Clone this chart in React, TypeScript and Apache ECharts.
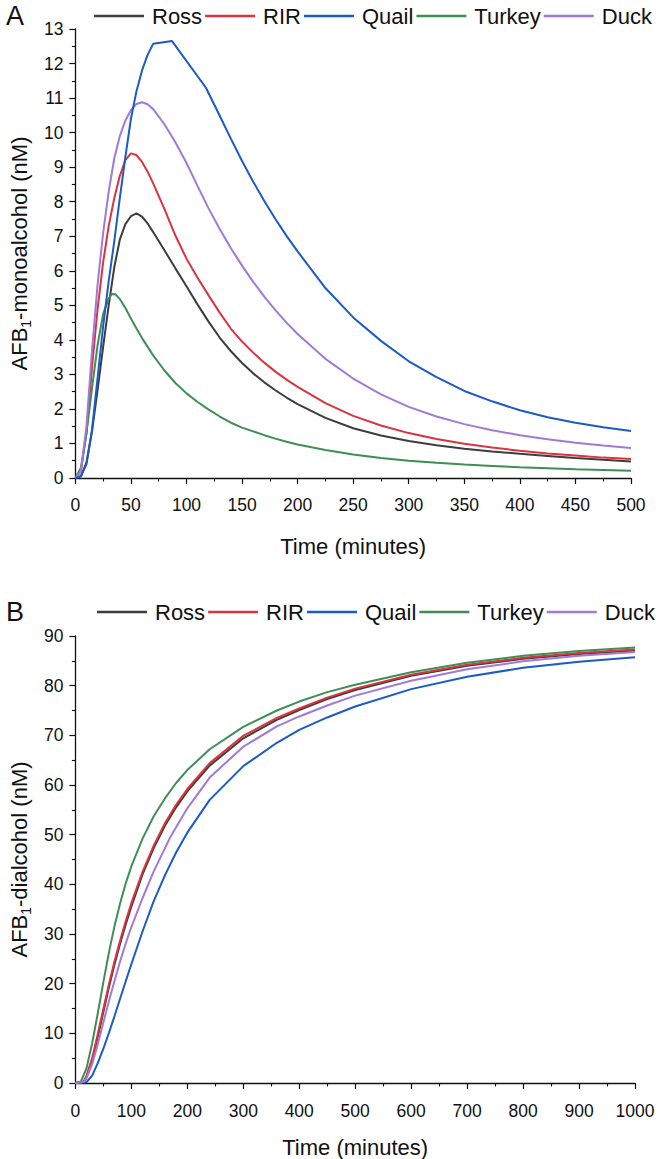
import React, { useEffect, useRef } from "react";
import * as echarts from "echarts";

const seriesNames = ["Ross", "RIR", "Quail", "Turkey", "Duck"];
const seriesColors = ["#3d3d3d", "#d9343f", "#1b5bc4", "#3f8f55", "#a07ad6"];

// Panel A: AFB1-monoalcohol (nM) vs time (minutes)
const rossMono = [[0,0],[5,0.05],[10,0.45],[15,1.35],[20,2.55],[25,3.8],[30,5.0],[35,6.1],[40,6.9],[45,7.35],[50,7.58],[55,7.66],[60,7.57],[65,7.37],[70,7.12],[80,6.6],[90,6.07],[100,5.55],[110,5.02],[120,4.52],[130,4.06],[140,3.67],[150,3.33],[160,3.03],[170,2.77],[180,2.54],[190,2.33],[200,2.14],[225,1.74],[250,1.44],[275,1.23],[300,1.07],[325,0.95],[350,0.85],[375,0.77],[400,0.7],[425,0.64],[450,0.58],[475,0.53],[500,0.48]];
const rirMono = [[0,0],[5,0.2],[10,1.3],[15,3.2],[20,4.9],[25,6.25],[30,7.3],[35,8.1],[40,8.75],[45,9.2],[50,9.4],[55,9.35],[60,9.15],[65,8.87],[70,8.53],[80,7.8],[90,7.02],[100,6.35],[110,5.8],[120,5.28],[130,4.78],[140,4.32],[150,3.95],[160,3.63],[170,3.34],[180,3.08],[190,2.85],[200,2.64],[225,2.17],[250,1.8],[275,1.52],[300,1.3],[325,1.13],[350,0.99],[375,0.88],[400,0.79],[425,0.71],[450,0.65],[475,0.59],[500,0.55]];
const quailMono = [[0,0],[5,0.05],[10,0.4],[15,1.4],[20,2.9],[25,4.4],[30,5.7],[35,6.85],[40,8.1],[45,9.3],[50,10.4],[55,11.2],[60,11.8],[65,12.25],[70,12.57],[87,12.65],[117.5,11.3],[130,10.48],[140,9.82],[150,9.18],[160,8.58],[170,8.02],[180,7.5],[190,7.01],[200,6.56],[225,5.5],[250,4.65],[275,3.97],[300,3.38],[325,2.92],[350,2.52],[375,2.22],[400,1.96],[425,1.76],[450,1.6],[475,1.47],[500,1.36]];
const turkeyMono = [[0,0],[5,0.3],[10,1.3],[15,2.6],[20,3.85],[25,4.75],[30,5.2],[33,5.33],[36,5.32],[40,5.18],[45,4.92],[50,4.62],[55,4.33],[60,4.05],[70,3.55],[80,3.12],[90,2.75],[100,2.45],[110,2.2],[120,1.98],[130,1.78],[140,1.6],[150,1.46],[160,1.35],[170,1.24],[180,1.14],[190,1.05],[200,0.97],[225,0.81],[250,0.68],[275,0.58],[300,0.5],[325,0.44],[350,0.39],[375,0.35],[400,0.31],[425,0.28],[450,0.25],[475,0.23],[500,0.21]];
const duckMono = [[0,0],[5,0.2],[10,1.5],[15,3.7],[20,5.6],[25,7.1],[30,8.3],[35,9.25],[40,9.9],[45,10.35],[50,10.65],[55,10.83],[60,10.88],[65,10.82],[70,10.68],[80,10.25],[90,9.72],[100,9.12],[110,8.45],[120,7.8],[130,7.2],[140,6.65],[150,6.15],[160,5.68],[170,5.25],[180,4.86],[190,4.5],[200,4.17],[225,3.45],[250,2.88],[275,2.42],[300,2.06],[325,1.78],[350,1.56],[375,1.38],[400,1.24],[425,1.12],[450,1.02],[475,0.94],[500,0.87]];

// Panel B: AFB1-dialcohol (nM) vs time (minutes)
const rossDi = [[0,0],[15,0.2],[20,1.2],[30,4.5],[40,9.2],[50,14.3],[60,19.3],[70,23.9],[80,28.1],[90,31.9],[100,35.5],[120,42.0],[140,47.3],[160,51.8],[180,55.5],[200,58.7],[240,63.9],[300,69.4],[360,73.1],[400,75.1],[450,77.3],[500,79.1],[600,82.0],[700,84.0],[800,85.4],[900,86.4],[1000,87.1]];
const rirDi = [[0,0],[15,0.3],[20,1.5],[30,5],[40,9.8],[50,14.9],[60,19.9],[70,24.5],[80,28.7],[90,32.6],[100,36.2],[120,42.5],[140,47.8],[160,52.3],[180,56.0],[200,59.2],[240,64.4],[300,69.9],[360,73.5],[400,75.4],[450,77.6],[500,79.4],[600,82.2],[700,84.2],[800,85.6],[900,86.6],[1000,87.3]];
const quailDi = [[0,0],[20,0.2],[30,1.5],[40,4],[50,6.9],[60,10.1],[70,13.5],[80,17.0],[90,20.5],[100,23.9],[120,30.5],[140,36.6],[160,41.8],[180,46.4],[200,50.4],[240,57.0],[300,63.8],[360,68.5],[400,71.1],[450,73.6],[500,75.8],[600,79.3],[700,81.8],[800,83.6],[900,84.8],[1000,85.7]];
const turkeyDi = [[0,0],[10,0.3],[20,3],[30,8],[40,14],[50,20.3],[60,26.3],[70,31.6],[80,36.2],[90,40.2],[100,43.6],[120,49.2],[140,53.7],[160,57.3],[180,60.4],[200,63.0],[240,67.2],[300,71.7],[360,75.0],[400,76.8],[450,78.7],[500,80.2],[600,82.7],[700,84.6],[800,86.0],[900,87.0],[1000,87.7]];
const duckDi = [[0,0],[15,0.2],[20,1],[30,3.8],[40,7.8],[50,12.2],[60,16.5],[70,20.6],[80,24.5],[90,28.1],[100,31.4],[120,37.2],[140,42.6],[170,49.6],[200,55.3],[240,61.5],[300,67.7],[360,71.8],[400,73.8],[450,76.0],[500,78.0],[600,81.0],[700,83.3],[800,84.9],[900,86.0],[1000,86.8]];

const monoData = [rossMono, rirMono, quailMono, turkeyMono, duckMono];
const diData = [rossDi, rirDi, quailDi, turkeyDi, duckDi];

const FONT = "'Liberation Sans', Arial, sans-serif";

function makeAxisName(main: string, rest: string, size: number) {
  return {
    text: `{n|${main}}{s|1}{n|${rest}}`,
    rich: {
      n: { fontSize: size, fontFamily: FONT, color: "#111", lineHeight: size + 6 },
      s: { fontSize: Math.round(size * 0.62), fontFamily: FONT, color: "#111", lineHeight: size + 6, verticalAlign: "bottom" },
    },
  };
}

export default function App() {
  const ref = useRef<HTMLDivElement>(null);
  useEffect(() => {
    if (!ref.current) return;
    const chart = echarts.init(ref.current, undefined, { renderer: "svg" });
    const axisCommon = {
      axisLine: { show: true, lineStyle: { color: "#111", width: 1.3 } },
      axisTick: { show: true, inside: false, length: 6, lineStyle: { color: "#111", width: 1.2 } },
      minorTick: { show: true, splitNumber: 2, length: 3.5, lineStyle: { color: "#111", width: 1.1 } },
      splitLine: { show: false },
      minorSplitLine: { show: false },
      axisLabel: { fontSize: 17.5, fontFamily: FONT, color: "#111" },
    };
    const yNameA = makeAxisName("AFB", "-monoalcohol (nM)", 22);
    const yNameB = makeAxisName("AFB", "-dialcohol (nM)", 22);
    const legendCommon = {
      data: seriesNames,
      icon: "rect",
      itemWidth: 50,
      itemHeight: 2.5,
      itemGap: 3,
      padding: 0,
      textStyle: { fontSize: 22, fontFamily: FONT, color: "#111", padding: [0, 0, 0, 3] },
    };
    const series: any[] = [];
    seriesNames.forEach((name, i) => {
      series.push({
        name, type: "line", xAxisIndex: 0, yAxisIndex: 0, data: monoData[i],
        symbol: "none", lineStyle: { width: 2, color: seriesColors[i] }, itemStyle: { color: seriesColors[i] }, z: i === 2 ? 3 : 2,
      });
    });
    seriesNames.forEach((name, i) => {
      series.push({
        name, type: "line", xAxisIndex: 1, yAxisIndex: 1, data: diData[i],
        symbol: "none", lineStyle: { width: 2, color: seriesColors[i] }, itemStyle: { color: seriesColors[i] },
      });
    });
    chart.setOption({
      animation: false,
      backgroundColor: "#ffffff",
      grid: [
        { left: 72, right: 34, top: 29, height: 449 },
        { left: 75, right: 30, top: 636, height: 450 },
      ],
      legend: [
        { ...legendCommon, left: 94, top: 5 },
        { ...legendCommon, left: 97, top: 601 },
      ],
      graphic: [
        { type: "text", left: 6, top: 2, style: { text: "A", fontSize: 27, fontFamily: FONT, fill: "#111" } },
        { type: "text", left: 6, top: 598, style: { text: "B", fontSize: 27, fontFamily: FONT, fill: "#111" } },
      ],
      xAxis: [
        { ...axisCommon, gridIndex: 0, type: "value", min: 0, max: 500, interval: 50,
          axisLabel: { ...axisCommon.axisLabel, margin: 18, formatter: (v: number) => String(v) },
          name: "Time (minutes)", nameLocation: "middle", nameGap: 57,
          nameTextStyle: { fontSize: 22, fontFamily: FONT, color: "#111" } },
        { ...axisCommon, gridIndex: 1, type: "value", min: 0, max: 1000, interval: 100,
          axisLabel: { ...axisCommon.axisLabel, margin: 19, formatter: (v: number) => String(v) },
          name: "Time (minutes)", nameLocation: "middle", nameGap: 53,
          nameTextStyle: { fontSize: 22, fontFamily: FONT, color: "#111" } },
      ],
      yAxis: [
        { ...axisCommon, gridIndex: 0, type: "value", min: 0, max: 13, interval: 1,
          axisLabel: { ...axisCommon.axisLabel, margin: 12 },
          name: yNameA.text, nameLocation: "middle", nameGap: 40,
          nameTextStyle: { rich: yNameA.rich } },
        { ...axisCommon, gridIndex: 1, type: "value", min: 0, max: 90, interval: 10,
          axisLabel: { ...axisCommon.axisLabel, margin: 12 },
          name: yNameB.text, nameLocation: "middle", nameGap: 41,
          nameTextStyle: { rich: yNameB.rich } },
      ],
      series,
    });
    return () => chart.dispose();
  }, []);
  return (
    <div
      ref={ref}
      style={{ position: "absolute", left: 0, top: 0, width: 665, height: 1159, background: "#fff" }}
    />
  );
}
